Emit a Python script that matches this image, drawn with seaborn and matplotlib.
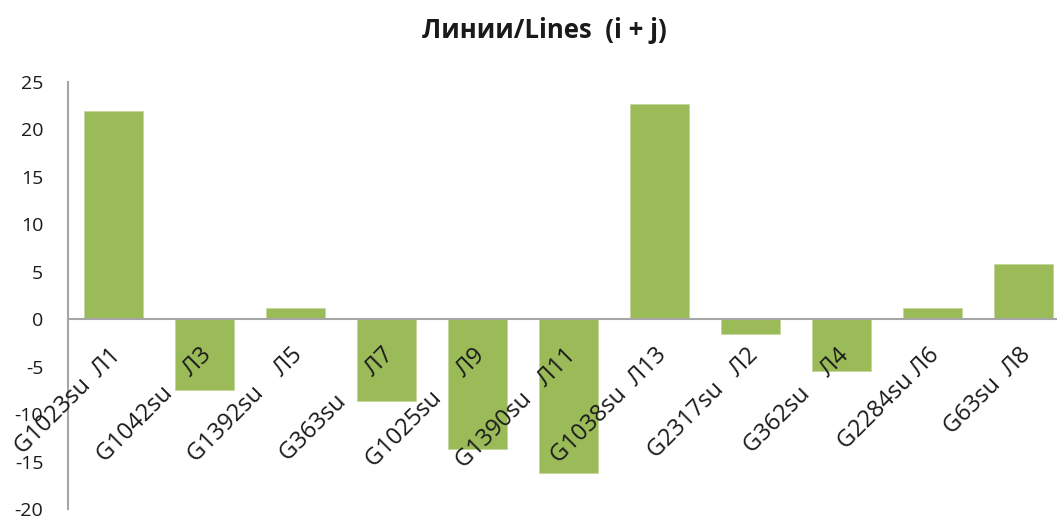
import matplotlib
matplotlib.use("Agg")
import matplotlib.pyplot as plt
from matplotlib.transforms import offset_copy
import seaborn as sns
import pandas as pd

# Line codes and their (i + j) values
lines = ["G1023su  Л1", "G1042su    Л3", "G1392su    Л5", "G363su      Л7",
         "G1025su     Л9", "G1390su   Л11", "G1038su  Л13", "G2317su   Л2",
         "G362su    Л4", "G2284su Л6", "G63su  Л8"]
values = [21.9, -7.4, 1.2, -8.6, -13.7, -16.2, 22.7, -1.6, -5.5, 1.2, 5.8]
yticks = [-20, -15, -10, -5, 0, 5, 10, 15, 20, 25]
title = "Линии/Lines  (i + j)"

df = pd.DataFrame({"line": lines, "value": values})

sns.set_theme(style="white")
plt.rcParams["font.family"] = ["Open Sans", "DejaVu Sans"]

W, H = 1057, 519
fig = plt.figure(figsize=(W / 100, H / 100), dpi=100)
ax = fig.add_axes([68.3 / W, (H - 509.1) / H, 1001 / W, (509.1 - 82.05) / H])

sns.barplot(data=df, x="line", y="value", color="#9BBB59", saturation=1,
            width=0.644, edgecolor="#C4D79B", linewidth=0.6, ax=ax)

ax.set_xlim(-0.5, 10.5)
ax.set_ylim(-20, 25)
ax.set_yticks(yticks)
ax.set_yticklabels([str(t) for t in yticks], fontsize=14, color="#1a1a1a")
ax.tick_params(axis="y", length=0, pad=18)
ax.set_xticks([])
ax.set_xlabel("")
ax.set_ylabel("")

for side in ("top", "right"):
    ax.spines[side].set_visible(False)
ax.spines["left"].set_color("#A6A6A6")
ax.spines["left"].set_linewidth(1.5)
ax.spines["bottom"].set_position(("data", 0))
ax.spines["bottom"].set_color("#A6A6A6")
ax.spines["bottom"].set_linewidth(1.5)
ax.set_zorder(1)

# Rotated category labels hanging under the zero line
lab_tr = offset_copy(ax.transData, fig=fig, x=-5, y=-24, units="dots")
for i, name in enumerate(lines):
    ax.text(i, 0, name, transform=lab_tr, rotation=45, rotation_mode="anchor",
            ha="right", va="top", fontsize=17, color="#1a1a1a", zorder=5)

fig.text(544 / W, 1 - 31 / H, title, ha="center", va="center",
         fontsize=18.5, fontweight="bold", color="#1a1a1a")

fig.savefig("out.png", dpi=100, facecolor="white")
